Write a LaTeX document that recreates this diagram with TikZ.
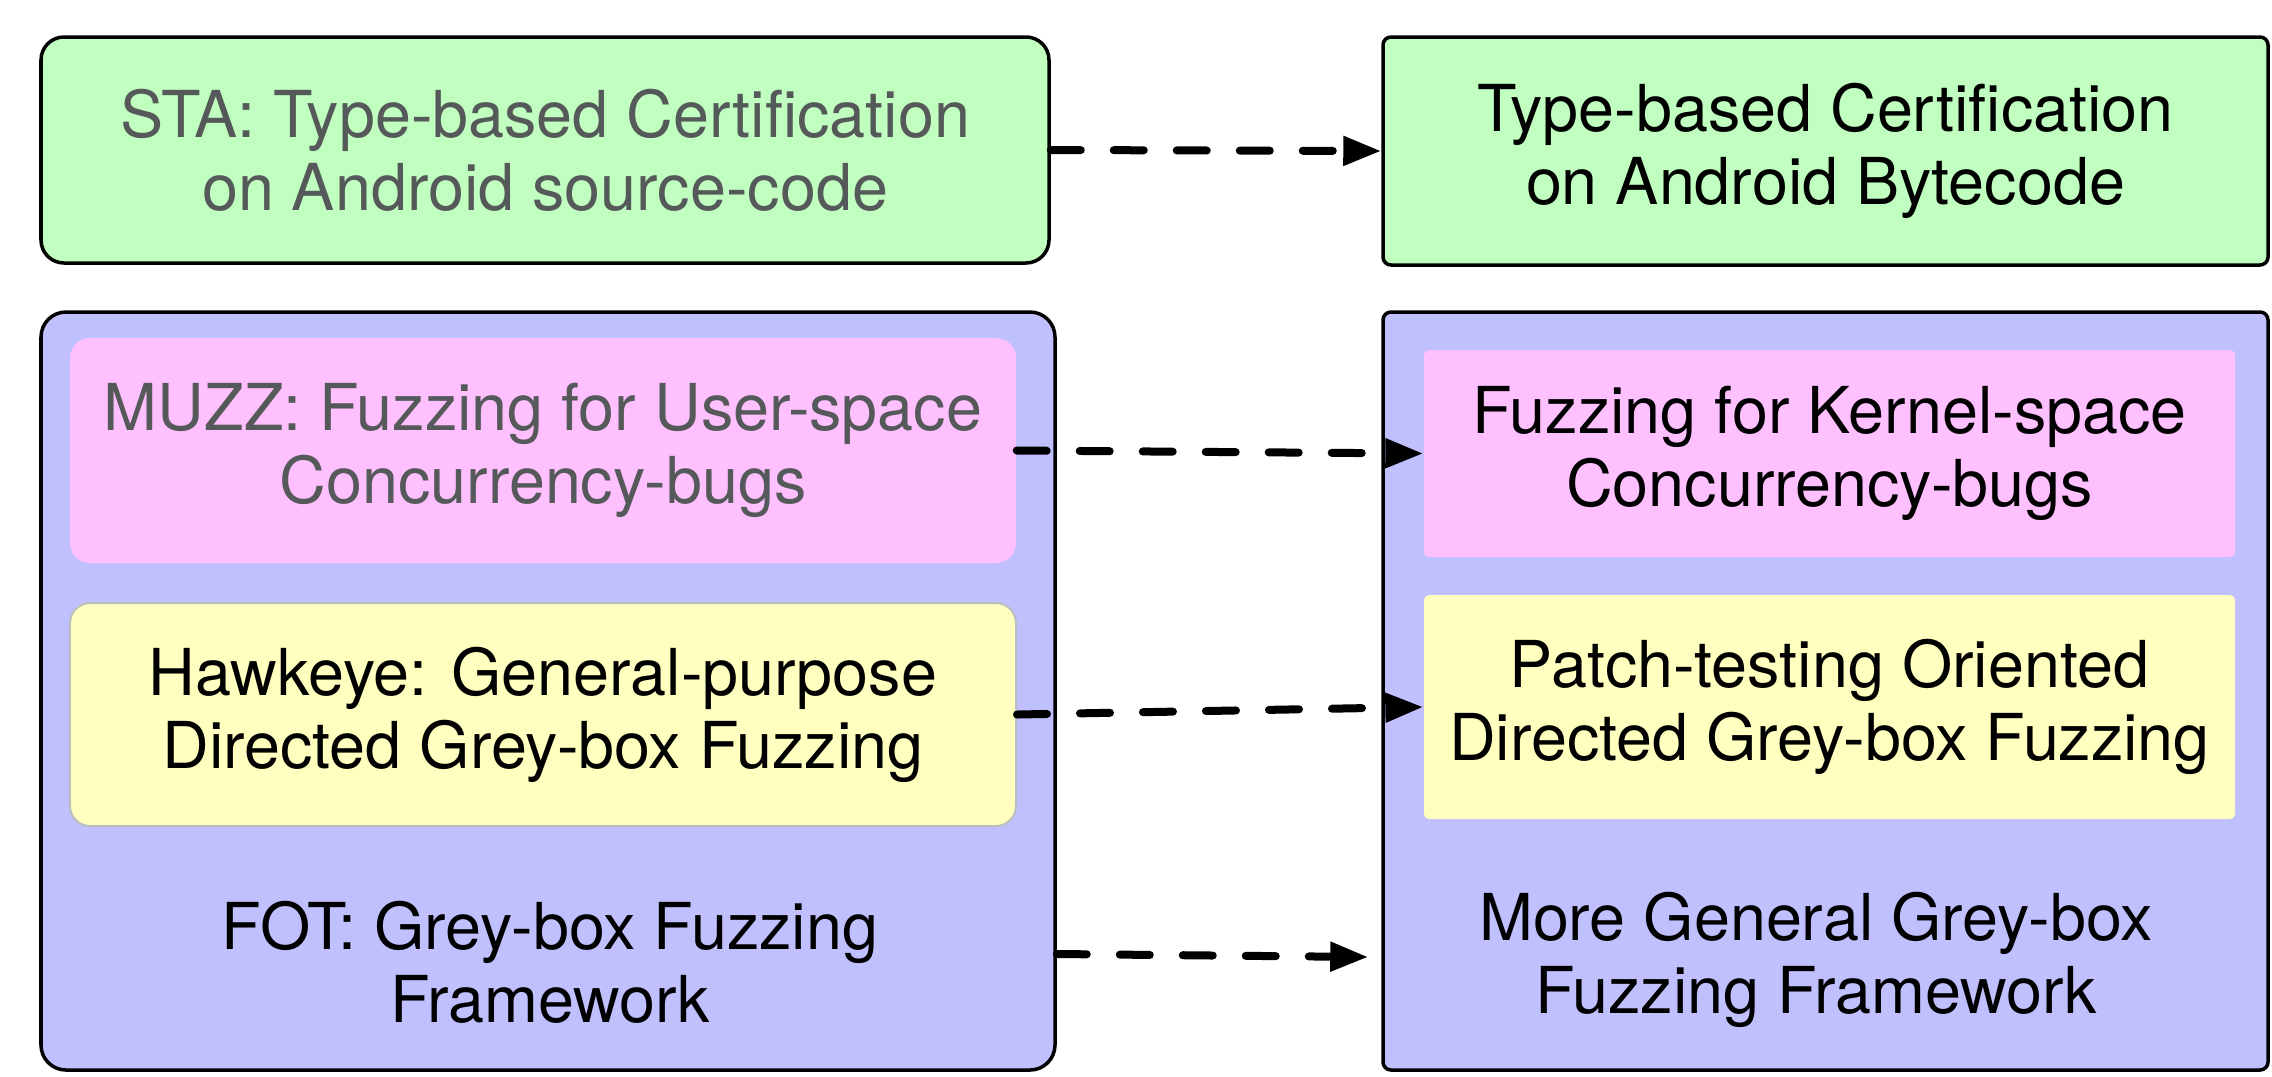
\documentclass[tikz,border=0pt]{standalone}
\usepackage{fontspec}
\setmainfont{TeX Gyre Heros}
\usepackage{xcolor}
\usetikzlibrary{arrows.meta}

\definecolor{certgreen}{RGB}{192,255,192}
\definecolor{fuzzblue}{RGB}{192,192,255}
\definecolor{bugpink}{RGB}{255,192,255}
\definecolor{dirsyellow}{RGB}{255,255,192}
\definecolor{oldtext}{RGB}{85,89,89}
\definecolor{edgegrey}{RGB}{185,190,190}

\begin{document}
\begin{tikzpicture}[
    every node/.style={align=center,font=\fontsize{18.4}{20.8}\selectfont},
    outerbox/.style={draw=black,line width=0.035cm,inner sep=0pt},
    innerbox/.style={draw=none,inner sep=0pt},
    link/.style={line width=0.08cm,dash pattern=on 0.30cm off 0.33cm,line cap=round,
      -{Triangle[length=0.38cm,width=0.28cm]}}
  ]
      \useasboundingbox (0, 0) rectangle (22.72, -10.76);

      % previous work (left) and extension (right)
      \node[outerbox,fill=certgreen,rounded corners=0.23cm,minimum width=10.08cm,minimum height=2.26cm,text=oldtext]
        (sta) at (5.45, -1.50) {STA: Type-based Certification\\on Android source-code};
      \node[outerbox,fill=certgreen,rounded corners=0.08cm,minimum width=8.85cm,minimum height=2.28cm]
        (byte) at (18.255, -1.51) {Type-based Certification\\on Android Bytecode};

      \node[outerbox,fill=fuzzblue,rounded corners=0.25cm,minimum width=10.14cm,minimum height=7.58cm]
        (fotbox) at (5.48, -6.91) {};
      \node[outerbox,fill=fuzzblue,rounded corners=0.08cm,minimum width=8.85cm,minimum height=7.58cm]
        (genbox) at (18.255, -6.91) {};

      \node[innerbox,fill=bugpink,rounded corners=0.2cm,minimum width=9.46cm,minimum height=2.25cm,text=oldtext]
        (muzz) at (5.43, -4.505) {MUZZ: Fuzzing for User-space\\Concurrency-bugs};
      \node[innerbox,draw=edgegrey,line width=0.02cm,fill=dirsyellow,rounded corners=0.2cm,minimum width=9.46cm,minimum height=2.23cm]
        (hawk) at (5.43, -7.145) {Hawkeye: General-purpose\\Directed Grey-box Fuzzing};
      \node (fot) at (5.5, -9.62) {FOT: Grey-box Fuzzing\\Framework};

      \node[innerbox,fill=bugpink,rounded corners=0.05cm,minimum width=8.11cm,minimum height=2.07cm]
        (kernel) at (18.295, -4.535) {Fuzzing for Kernel-space\\Concurrency-bugs};
      \node[innerbox,fill=dirsyellow,rounded corners=0.05cm,minimum width=8.11cm,minimum height=2.24cm]
        (patch) at (18.295, -7.07) {Patch-testing Oriented\\Directed Grey-box Fuzzing};
      \node (gen) at (18.16, -9.60) {More General Grey-box\\Fuzzing Framework};

      % extensions
      \draw[link] (sta.east) -- (byte.west);
      \draw[link] (muzz.east) -- (kernel.west);
      \draw[link] (hawk.east) -- (patch.west);
      \draw[link] (fotbox.east |- 0, -9.54) -- ([xshift=-0.13cm]genbox.west |- 0, -9.57);
    \end{tikzpicture}
\end{document}
